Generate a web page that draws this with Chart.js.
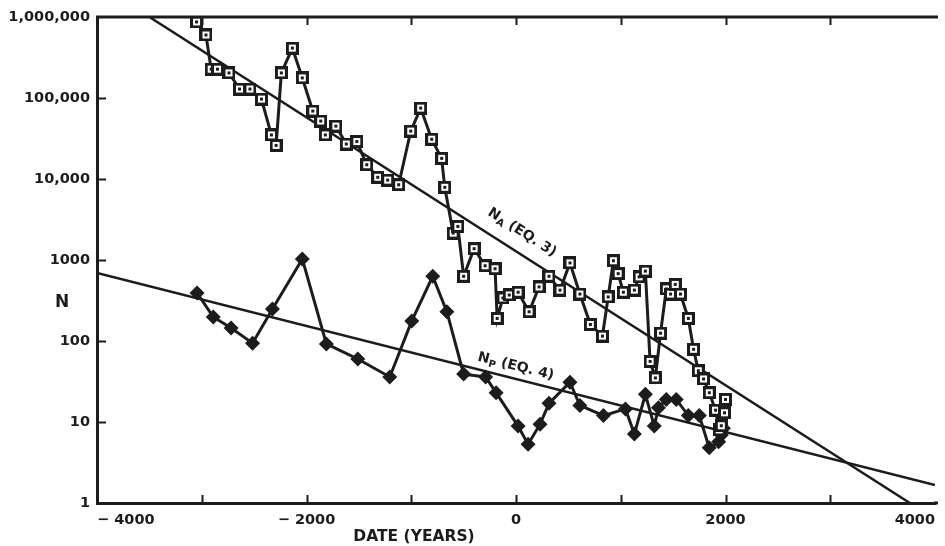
<!DOCTYPE html>
<html lang="en">
<head>
<meta charset="UTF-8">
<title>N vs date</title>
<script src="https://cdn.jsdelivr.net/npm/chart.js"></script>
<style>
  html, body { margin: 0; padding: 0; background: #fff; }
  #wrap { width: 945px; height: 546px; }
</style>
</head>
<body>
<div id="wrap"><canvas id="chart" width="945" height="546"></canvas></div>
<script>
// N_A series (open squares)
var squareYears = [-3050, -2960, -2910, -2850, -2740, -2640, -2540, -2430, -2335, -2290,
  -2240, -2135, -2040, -1940, -1865, -1820, -1720, -1620, -1520, -1425,
  -1320, -1225, -1120, -1005, -910, -805, -710, -680, -600, -555,
  -500, -400, -295, -200, -180, -125, -65, 20, 125, 220,
  315, 420, 515, 610, 710, 825, 880, 930, 975, 1025,
  1130, 1175, 1235, 1280, 1330, 1380, 1435, 1475, 1520, 1570,
  1645, 1695, 1740, 1790, 1845, 1905, 1940, 1960, 1990, 2000];
var squareValues = [870000, 600000, 227000, 227000, 204000, 129000, 129000, 97000, 35000, 26000,
  204000, 413000, 177000, 69000, 52000, 35000, 45000, 27000, 29000, 15000,
  10500, 9700, 8500, 39000, 75000, 31000, 18000, 7900, 2150, 2600,
  630, 1380, 850, 780, 190, 340, 370, 400, 230, 465,
  630, 425, 920, 380, 160, 115, 350, 980, 680, 400,
  425, 620, 730, 56, 35, 125, 440, 380, 500, 380,
  190, 79, 43, 34, 23, 14, 8, 9, 13, 19];

// N_P series (filled diamonds)
var diamondYears = [-3045, -2890, -2720, -2515, -2325, -2040, -1810, -1510, -1205, -995,
  -795, -660, -500, -290, -190, 20, 115, 230, 315, 515,
  610, 835, 1045, 1130, 1235, 1320, 1360, 1435, 1530, 1645,
  1750, 1845, 1935, 1960, 1980];
var diamondValues = [392, 198, 145, 94, 248, 1030, 92, 60, 36, 177,
  630, 230, 39, 36, 23, 8.9, 5.3, 9.4, 17, 31,
  16, 12, 14.5, 7.1, 22, 8.9, 15, 19, 19, 12,
  12, 4.8, 5.7, 6.9, 8.4];

// fitted lines
var naLineYears = [-3500, 3760];
var naLineValues = [1000000, 1];
var npLineYears = [-4000, 4000];
var npLineValues = [690, 1.67];

var yTickValues = [1, 10, 100, 1000, 10000, 100000, 1000000];
var yTickLabels = ['1', '10', '100', '1000', '10,000', '100,000', '1,000,000'];
var xLabelYears = [-4000, -2000, 0, 2000, 4000];
var xLabelTexts = ['\u2212 4000', '\u2212 2000', '0', '2000', '4000'];

var INK = '#1c1c1c';
var FONT = 'DejaVu Sans';

function pairs(xs, ys) {
  return xs.map(function (x, i) { return { x: x, y: ys[i] }; });
}

function makeSquare() {
  var c = document.createElement('canvas');
  c.width = 13; c.height = 13;
  var g = c.getContext('2d');
  g.fillStyle = INK; g.fillRect(0, 0, 13, 13);
  g.fillStyle = '#fff'; g.fillRect(3, 3, 7, 7);
  g.fillStyle = INK; g.fillRect(5, 5, 3, 3);
  return c;
}

function lineLabel(ctx, chart, xs, ys, atYear, offset, sub, rest) {
  var sx = chart.scales.x, sy = chart.scales.y;
  var x0 = sx.getPixelForValue(xs[0]), y0 = sy.getPixelForValue(ys[0]);
  var x1 = sx.getPixelForValue(xs[1]), y1 = sy.getPixelForValue(ys[1]);
  var ang = Math.atan2(y1 - y0, x1 - x0);
  var t = (atYear - xs[0]) / (xs[1] - xs[0]);
  var px = x0 + t * (x1 - x0), py = y0 + t * (y1 - y0);
  ctx.save();
  ctx.translate(px, py);
  ctx.rotate(ang);
  ctx.translate(0, -offset);
  ctx.fillStyle = INK;
  ctx.textBaseline = 'middle';
  ctx.font = 'bold 14px ' + FONT;
  var wN = ctx.measureText('N').width;
  var wR = ctx.measureText(rest).width;
  ctx.font = 'bold 10px ' + FONT;
  var wS = ctx.measureText(sub).width;
  var start = -(wN + wS + wR) / 2;
  ctx.font = 'bold 14px ' + FONT;
  ctx.fillText('N', start, 0);
  ctx.fillText(rest, start + wN + wS, 0);
  ctx.font = 'bold 10px ' + FONT;
  ctx.fillText(sub, start + wN, 4);
  ctx.restore();
}

var decor = {
  id: 'decor',
  afterDraw: function (chart) {
    var ctx = chart.ctx, a = chart.chartArea;
    var sx = chart.scales.x, sy = chart.scales.y;
    ctx.save();
    ctx.strokeStyle = INK;
    ctx.lineWidth = 3;
    ctx.beginPath();
    ctx.moveTo(a.left - 1, a.top);
    ctx.lineTo(a.right + 3, a.top);
    ctx.moveTo(a.right - 1, a.bottom);
    ctx.lineTo(a.right + 3, a.bottom);
    ctx.stroke();
    ctx.lineWidth = 2;
    sx.ticks.forEach(function (t) {
      if (t.value <= sx.min || t.value >= sx.max) return;
      var p = Math.round(sx.getPixelForValue(t.value)) + 0.5;
      ctx.beginPath();
      ctx.moveTo(p, a.bottom); ctx.lineTo(p, a.bottom - 8);
      ctx.moveTo(p, a.top); ctx.lineTo(p, a.top + 8);
      ctx.stroke();
    });
    sy.ticks.forEach(function (t) {
      if (t.value <= sy.min || t.value >= sy.max) return;
      var p = Math.round(sy.getPixelForValue(t.value)) + 0.5;
      ctx.beginPath();
      ctx.moveTo(a.left, p); ctx.lineTo(a.left + 9, p);
      ctx.stroke();
    });
    ctx.fillStyle = INK;
    ctx.textAlign = 'center';
    ctx.textBaseline = 'middle';
    ctx.font = 'bold 15.5px ' + FONT;
    ctx.fillText('DATE (YEARS)', 414, 537);
    ctx.font = 'bold 17px ' + FONT;
    ctx.fillText('N', 62, 303);
    ctx.restore();
    lineLabel(ctx, chart, naLineYears, naLineValues, -40, 19, 'A', ' (EQ. 3)');
    lineLabel(ctx, chart, npLineYears, npLineValues, -30, 12, 'P', ' (EQ. 4)');
  }
};

new Chart(document.getElementById('chart'), {
  type: 'line',
  data: {
    datasets: [{
      label: 'NA',
      data: pairs(squareYears, squareValues),
      borderColor: INK,
      borderWidth: 3,
      pointStyle: makeSquare(),
      pointRadius: 7,
      tension: 0,
      order: 1
    }, {
      label: 'NP',
      data: pairs(diamondYears, diamondValues),
      borderColor: INK,
      borderWidth: 3,
      pointStyle: 'rectRot',
      pointRadius: 7.5,
      pointBackgroundColor: INK,
      pointBorderColor: INK,
      pointBorderWidth: 0,
      tension: 0,
      order: 1
    }, {
      label: 'NA fit',
      data: pairs(naLineYears, naLineValues),
      borderColor: INK,
      borderWidth: 2.5,
      pointRadius: 0,
      order: 2
    }, {
      label: 'NP fit',
      data: pairs(npLineYears, npLineValues),
      borderColor: INK,
      borderWidth: 2.5,
      pointRadius: 0,
      order: 2
    }]
  },
  options: {
    responsive: false,
    animation: false,
    devicePixelRatio: 1,
    layout: { padding: { top: 17, right: 8, left: 0, bottom: 0 } },
    plugins: { legend: { display: false }, tooltip: { enabled: false } },
    scales: {
      x: {
        type: 'linear',
        min: -4000,
        max: 4000,
        afterFit: function (s) { s.height = 43; },
        grid: { display: false, drawTicks: false },
        border: { display: true, color: INK, width: 3 },
        ticks: {
          stepSize: 1000,
          autoSkip: false,
          maxRotation: 0,
          align: 'inner',
          padding: 9,
          color: INK,
          font: { family: FONT, weight: 'bold', size: 14.5 },
          callback: function (v) {
            var i = xLabelYears.indexOf(v);
            return i < 0 ? '' : xLabelTexts[i];
          }
        }
      },
      y: {
        type: 'logarithmic',
        min: 1,
        max: 1000000,
        afterFit: function (s) { s.width = 97; },
        afterBuildTicks: function (s) {
          s.ticks = yTickValues.map(function (v) { return { value: v }; });
        },
        grid: { display: false, drawTicks: false },
        border: { display: true, color: INK, width: 3 },
        ticks: {
          autoSkip: false,
          padding: 7,
          color: INK,
          font: { family: FONT, weight: 'bold', size: 14.5 },
          callback: function (v) {
            var i = yTickValues.indexOf(v);
            return i < 0 ? '' : yTickLabels[i];
          }
        }
      }
    }
  },
  plugins: [decor]
});
</script>
</body>
</html>
